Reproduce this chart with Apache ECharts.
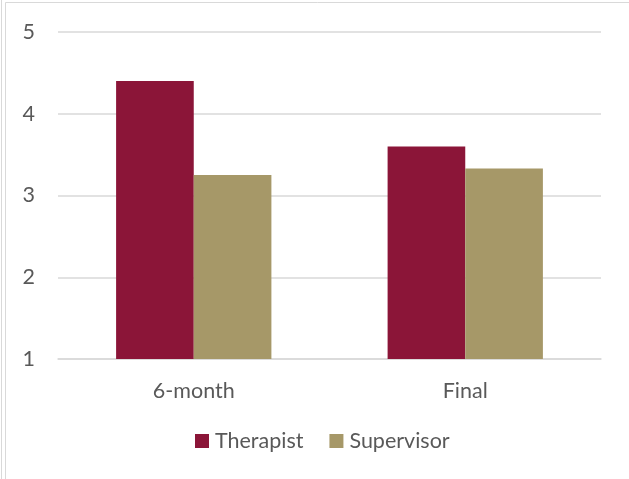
<!DOCTYPE html>
<html>
<head>
<meta charset="utf-8">
<script src="https://cdn.jsdelivr.net/npm/echarts@6/dist/echarts.min.js"></script>
<style>
  html, body { margin: 0; padding: 0; background: #ffffff; }
  #chart { width: 629px; height: 479px; }
</style>
</head>
<body>
<div id="chart"></div>
<script>
// Mean ratings at two time points
const categories = ['6-month', 'Final'];
const therapist = [4.40, 3.60];
const supervisor = [3.25, 3.33];
const yTicks = [1, 2, 3, 4, 5];

const textColor = '#595959';
const fontFamily = 'Lato, "Open Sans", sans-serif';
const fontSize = 21.5;

const chart = echarts.init(document.getElementById('chart'), null, { renderer: 'canvas' });

chart.setOption({
  animation: false,
  backgroundColor: '#ffffff',
  textStyle: { fontFamily: fontFamily },
  grid: { left: 58, right: 28, top: 32, bottom: 120, containLabel: false },
  legend: {
    data: ['Therapist', 'Supervisor'],
    bottom: 22,
    left: 190,
    itemWidth: 14,
    itemHeight: 14,
    itemGap: 26,
    icon: 'rect',
    textStyle: { color: textColor, fontSize: fontSize, fontFamily: fontFamily, padding: [0, 0, 0, 1] }
  },
  xAxis: {
    type: 'category',
    data: categories,
    axisLine: { show: true, lineStyle: { color: '#d9d9d9', width: 1.5 } },
    axisTick: { show: false },
    axisLabel: { color: textColor, fontSize: fontSize, margin: 21, fontFamily: fontFamily }
  },
  yAxis: {
    type: 'value',
    min: yTicks[0],
    max: yTicks[yTicks.length - 1],
    interval: 1,
    axisLine: { show: false },
    axisTick: { show: false },
    splitLine: { lineStyle: { color: '#d9d9d9', width: 1.5 } },
    axisLabel: { color: textColor, fontSize: fontSize, margin: 23, fontFamily: fontFamily }
  },
  series: [
    {
      name: 'Therapist',
      type: 'bar',
      data: therapist,
      barWidth: '28.6%',
      barGap: '0%',
      barCategoryGap: '42.8%',
      itemStyle: { color: '#8b1538' }
    },
    {
      name: 'Supervisor',
      type: 'bar',
      data: supervisor,
      barWidth: '28.6%',
      barGap: '0%',
      itemStyle: { color: '#a69868' }
    }
  ],
  graphic: [
    { type: 'line', shape: { x1: 1.5, y1: 0, x2: 1.5, y2: 479 }, style: { stroke: '#d9d9d9', lineWidth: 1 } },
    { type: 'line', shape: { x1: 5.5, y1: 2.5, x2: 5.5, y2: 479 }, style: { stroke: '#d9d9d9', lineWidth: 1 } },
    { type: 'line', shape: { x1: 5.5, y1: 2.5, x2: 629, y2: 2.5 }, style: { stroke: '#d9d9d9', lineWidth: 1 } }
  ]
});
</script>
</body>
</html>
